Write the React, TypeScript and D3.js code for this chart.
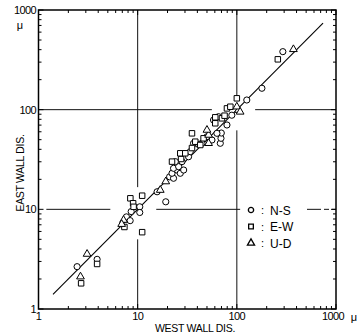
import React, { useRef, useEffect } from 'react';
import * as d3 from 'd3';

// west wall / east wall displacement, microns
const nsWest = [2.45, 3.9, 8.6, 10.5, 10.5, 7.7, 8.4, 15.7, 19.2, 21.0, 23.0, 22.2, 24.9, 23.0, 25.9, 26.9, 24.0, 28.0, 29.1, 32.6, 33.9, 36.6, 44.5, 56.1, 50.0, 68.1, 69.2, 69.7, 89, 126, 179, 58.2, 65.4, 63.0, 79.5, 291];
const nsEast = [2.66, 3.15, 9.5, 10.6, 9.3, 8.4, 7.7, 15.0, 11.9, 21.2, 20.5, 23.0, 24.8, 25.8, 26.8, 23.0, 30.1, 30.1, 24.8, 33.7, 37.9, 46.0, 46.0, 49.6, 53.5, 46.0, 51.6, 58.3, 88, 125, 164, 78.7, 85.0, 57.9, 70.2, 382];

const ewWest = [2.69, 3.9, 8.44, 9.0, 9.1, 11.1, 11.1, 7.35, 22.2, 27.4, 26.9, 30.2, 35.3, 41.1, 46.2, 35.3, 38.1, 42.8, 60.6, 70.8, 79.5, 100, 86, 60.6, 75.2, 259];
const ewEast = [1.81, 2.83, 12.9, 11.5, 10.6, 13.7, 5.9, 6.65, 30.1, 32.0, 36.5, 36.5, 41.2, 45.2, 51.6, 57.9, 47.7, 44.2, 73.0, 81.9, 103, 130, 107, 83.8, 87.0, 320];

const udWest = [2.65, 3.09, 7.2, 16.9, 19.2, 6.9, 51.9, 50.0, 51.9, 104, 100, 108, 372];
const udEast = [2.11, 3.56, 7.8, 15.6, 19.0, 7.1, 55.7, 62.5, 46.0, 99, 107, 95, 403];

const fitLine = [1.4, 740];
const decades = [1, 10, 100, 1000];
const tickLabels = ['1', '10', '100', '1000'];
const unitLabel = 'μ';
const legendLabels = ['N-S', 'E-W', 'U-D'];

// broken grid lines: [value, from, to]
const hGrid = [[100, 1, 56], [100, 153, 1000], [10, 1.2, 5.3], [10, 15.4, 108]];
const vGrid = [[10, 16.7, 1000], [10, 1, 5], [100, 134, 1000], [100, 1, 62]];

function App() {
    const ref = useRef(null);

    useEffect(() => {
        const root = d3.select(ref.current);
        root.selectAll('*').remove();
        const font = "'Liberation Sans', Arial, sans-serif";

        const svg = root
            .append('svg')
            .attr('width', 360)
            .attr('height', 336)
            .style('position', 'absolute')
            .style('left', 0)
            .style('top', 0)
            .style('background', '#fff');

        const x = d3.scaleLog().domain([1, 1000]).range([38.5, 336]);
        const y = d3.scaleLog().domain([1, 1000]).range([309, 10]);

        // grid
        const grid = svg.append('g').attr('stroke', '#111').attr('stroke-width', 1);
        hGrid.forEach((g) => {
            grid.append('line')
                .attr('x1', x(g[1])).attr('x2', x(g[2]))
                .attr('y1', y(g[0])).attr('y2', y(g[0]));
        });
        vGrid.forEach((g) => {
            grid.append('line')
                .attr('x1', x(g[0])).attr('x2', x(g[0]))
                .attr('y1', y(g[1])).attr('y2', y(g[2]));
        });
        grid.append('line')
            .attr('x1', x(510)).attr('x2', x(1000))
            .attr('y1', y(10)).attr('y2', y(10))
            .attr('stroke-dasharray', '14,3,5,3');

        // ticks on all four sides, inward
        const tickVals = [];
        [1, 10, 100].forEach((d) => {
            for (let k = 1; k < 10; k++) tickVals.push(d * k);
        });
        tickVals.push(1000);
        const tk = svg.append('g').attr('stroke', '#000').attr('stroke-width', 1);
        tickVals.forEach((v) => {
            const major = decades.includes(v);
            const len = major ? 5 : 3;
            tk.append('line').attr('x1', x(v)).attr('x2', x(v)).attr('y1', y(1)).attr('y2', y(1) - len);
            tk.append('line').attr('x1', x(v)).attr('x2', x(v)).attr('y1', y(1000)).attr('y2', y(1000) + len);
            tk.append('line').attr('y1', y(v)).attr('y2', y(v)).attr('x1', x(1)).attr('x2', x(1) + len);
            tk.append('line').attr('y1', y(v)).attr('y2', y(v)).attr('x1', x(1000)).attr('x2', x(1000) - len);
        });

        // frame
        svg.append('rect')
            .attr('x', x(1)).attr('y', y(1000))
            .attr('width', x(1000) - x(1)).attr('height', y(1) - y(1000))
            .attr('fill', 'none').attr('stroke', '#000').attr('stroke-width', 1.5);

        // fit line
        svg.append('line')
            .attr('x1', x(fitLine[0])).attr('y1', y(fitLine[0]))
            .attr('x2', x(fitLine[1])).attr('y2', y(fitLine[1]))
            .attr('stroke', '#000').attr('stroke-width', 1.1);

        const series = [
            { w: nsWest, e: nsEast, type: d3.symbolCircle, size: 30 },
            { w: ewWest, e: ewEast, type: d3.symbolSquare, size: 30 },
            { w: udWest, e: udEast, type: d3.symbolTriangle, size: 26 },
        ];
        series.forEach((s) => {
            const sym = d3.symbol().type(s.type).size(s.size);
            svg.append('g')
                .selectAll('path')
                .data(s.w.map((w, i) => [w, s.e[i]]))
                .enter()
                .append('path')
                .attr('transform', (d) => 'translate(' + x(d[0]) + ',' + y(d[1]) + ')')
                .attr('d', sym())
                .attr('fill', '#fff')
                .attr('stroke', '#000')
                .attr('stroke-width', 1);
        });

        // axis labels
        const txt = svg.append('g').attr('font-family', font).attr('fill', '#000');
        decades.forEach((v, i) => {
            txt.append('text')
                .attr('x', 36).attr('y', y(v) + 4)
                .attr('text-anchor', 'end').attr('font-size', 11).attr('letter-spacing', -0.6)
                .text(tickLabels[i]);
            txt.append('text')
                .attr('x', x(v) + (i === 3 ? -3 : 0)).attr('y', y(1) + 11)
                .attr('text-anchor', 'middle').attr('font-size', 11).attr('letter-spacing', -0.6)
                .text(tickLabels[i]);
        });
        txt.append('text').attr('x', 20).attr('y', 29).attr('text-anchor', 'middle')
            .attr('font-size', 11).text(unitLabel);
        txt.append('text').attr('x', 354).attr('y', 321).attr('text-anchor', 'middle')
            .attr('font-size', 11).text(unitLabel);
        txt.append('text').attr('x', 195).attr('y', 332).attr('text-anchor', 'middle')
            .attr('font-size', 10.5).attr('letter-spacing', -0.3).text('WEST WALL DIS.');
        txt.append('text').attr('transform', 'translate(24,173) rotate(-90)').attr('text-anchor', 'middle')
            .attr('font-size', 10.5).attr('letter-spacing', -0.3).text('EAST WALL DIS.');

        // legend
        const legTypes = [d3.symbolCircle, d3.symbolSquare, d3.symbolTriangle];
        legendLabels.forEach((lab, i) => {
            const ly = 210 + i * 16.5;
            svg.append('path')
                .attr('transform', 'translate(251,' + ly + ')')
                .attr('d', d3.symbol().type(legTypes[i]).size(22)())
                .attr('fill', '#fff').attr('stroke', '#000').attr('stroke-width', 1.3);
            txt.append('text').attr('x', 261).attr('y', ly + 4).attr('font-size', 11).text(':');
            txt.append('text').attr('x', 270).attr('y', ly + 4.5).attr('font-size', 12).text(lab);
        });
    }, []);

    return <div className="chart-container" ref={ref} />;
}

export default App;
